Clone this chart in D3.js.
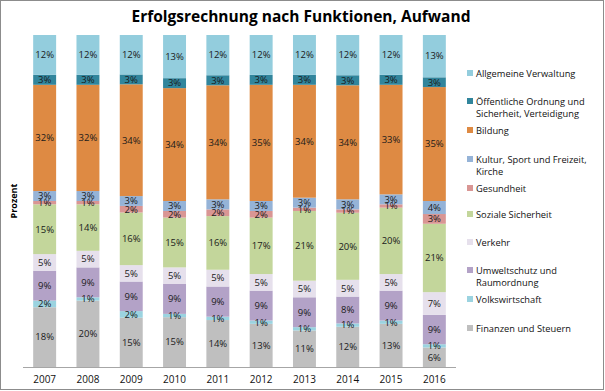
<!DOCTYPE html>
<html><head><meta charset="utf-8">
<script src="https://cdn.jsdelivr.net/npm/d3@7"></script>
<style>body{margin:0;background:#fff}svg{display:block}</style>
</head><body><svg id="c" width="605" height="391"></svg>
<script>
const years = ["2007","2008","2009","2010","2011","2012","2013","2014","2015","2016"];
// bottom to top
const seriesNames = ["Finanzen und Steuern","Volkswirtschaft","Umweltschutz und Raumordnung","Verkehr","Soziale Sicherheit","Gesundheit","Kultur, Sport und Freizeit, Kirche","Bildung","Öffentliche Ordnung und Sicherheit, Verteidigung","Allgemeine Verwaltung"];
const finanzen      = [18,20,15,15,14,13,11,12,13,6];
const volkswirt     = [2,1,2,1,1,1,1,1,1,1];
const umwelt        = [9,9,9,9,9,9,9,8,9,9];
const verkehr       = [5,5,5,5,5,5,5,5,5,7];
const sozial        = [15,14,16,15,16,17,21,20,20,21];
const gesundheit    = [1,1,2,2,2,2,1,1,1,3];
const kultur        = [3,3,3,3,3,3,3,3,3,4];
const bildung       = [32,32,34,34,34,35,34,34,33,35];
const oeffentlich   = [3,3,3,3,3,3,3,3,3,3];
const verwaltung    = [12,12,12,13,12,12,12,12,12,13];
const seriesValues = [finanzen,volkswirt,umwelt,verkehr,sozial,gesundheit,kultur,bildung,oeffentlich,verwaltung];
const colors = ["#BFBFBF","#9BD3E0","#B3A2C7","#E6E0EC","#C3D69B","#D99694","#95B3D7","#DE8A43","#31859C","#93CDDD"];
const legendLines = [["Allgemeine  Verwaltung"],["Öffentliche Ordnung und","Sicherheit, Verteidigung"],["Bildung"],["Kultur, Sport und Freizeit,","Kirche"],["Gesundheit"],["Soziale Sicherheit"],["Verkehr"],["Umweltschutz und","Raumordnung"],["Volkswirtschaft"],["Finanzen und Steuern"]];

const rows = years.map((y,i)=>{const o={year:y}; seriesNames.forEach((s,j)=>o[s]=seriesValues[j][i]); return o;});
const stack = d3.stack().keys(seriesNames).offset(d3.stackOffsetExpand)(rows);

const svg = d3.select("#c");
svg.append("rect").attr("x",0.5).attr("y",0.5).attr("width",603).attr("height",389).attr("fill","#fff").attr("stroke","#8c8c8c");

const x = d3.scaleBand().domain(years).range([23,456]).paddingInner(0.47).paddingOuter(0.235);
const y = d3.scaleLinear().domain([0,1]).range([367,35]);

const font = "'Open Sans', 'Noto Sans', sans-serif";

stack.forEach((layer,j)=>{
  const g = svg.append("g");
  g.selectAll("rect").data(layer).join("rect")
    .attr("x",d=>x(d.data.year)).attr("width",x.bandwidth())
    .attr("y",d=>y(d[1])).attr("height",d=>y(d[0])-y(d[1]))
    .attr("fill",colors[j]);
});
stack.forEach((layer,j)=>{
  svg.append("g").selectAll("text").data(layer).join("text")
    .attr("x",d=>x(d.data.year)+x.bandwidth()/2)
    .attr("y",d=>(y(d[0])+y(d[1]))/2)
    .attr("dy","0.35em").attr("text-anchor","middle")
    .attr("font-family",font).attr("font-size",9.5).attr("fill","#1a1a1a")
    .text(d=>d.data[seriesNames[j]]+"%");
});

// x axis
const xa = svg.append("g").attr("transform","translate(0,367)").call(d3.axisBottom(x).tickSize(0).tickPadding(9));
xa.select(".domain").attr("stroke","#a6a6a6").attr("d","M23,0.5H456");
xa.selectAll("text").attr("font-family",font).attr("font-size",10).attr("fill","#111");

// y label
svg.append("text").attr("transform","translate(17,201) rotate(-90)").attr("text-anchor","middle")
  .attr("font-family",font).attr("font-size",9).attr("font-weight","bold").text("Prozent");

// title
svg.append("text").attr("x",301).attr("y",22).attr("text-anchor","middle")
  .attr("font-family",font).attr("font-size",15.5).attr("font-weight","bold").text("Erfolgsrechnung nach Funktionen, Aufwand");

// legend
const legY = [74,102,131,160,189,215,243,271,300,329];
legendLines.forEach((lines,i)=>{
  const j = seriesNames.length-1-i;
  svg.append("rect").attr("x",467).attr("y",legY[i]-4).attr("width",6).attr("height",6).attr("fill",colors[j]);
  const t = svg.append("text").attr("x",476).attr("y",legY[i]).attr("dy","0.35em")
    .attr("font-family",font).attr("font-size",9.3).attr("fill","#111");
  lines.forEach((l,k)=>t.append("tspan").attr("x",476).attr("dy",k===0?"0.35em":"12").text(l));
});
</script></body></html>
